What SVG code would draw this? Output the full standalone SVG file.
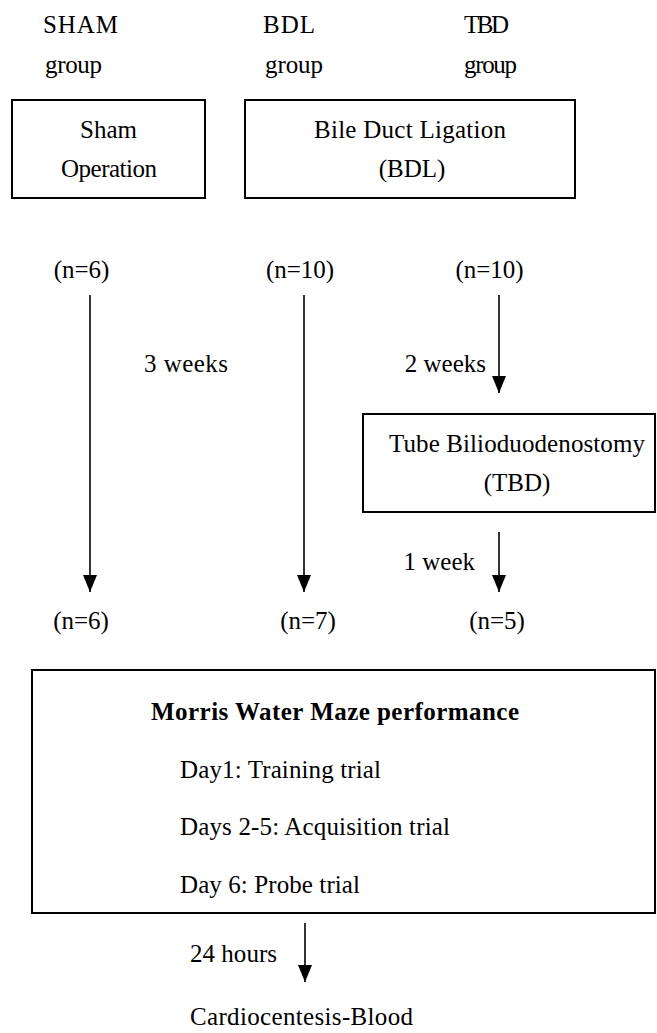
<svg xmlns="http://www.w3.org/2000/svg" width="657" height="1033" viewBox="0 0 657 1033" font-family="'Liberation Serif', 'Times New Roman', serif" font-size="25">
<defs>
<style>
text{font-family:'Liberation Serif','Times New Roman',serif;font-size:25px;fill:#000}
.c{text-anchor:middle}
.e{text-anchor:end}
.b{font-weight:bold}
.box{fill:#fff;stroke:#000;stroke-width:2}
.conn line{stroke:#000;stroke-width:1.6}
</style>
<marker id="ah" markerUnits="userSpaceOnUse" markerWidth="18" markerHeight="16" viewBox="0 -8 18 16" refX="17" refY="0" orient="auto">
<path d="M0,-7 L17,0 L0,7 z" fill="#000"/>
</marker>
</defs>
<rect width="657" height="1033" fill="#fff"/>

<g id="labels-groups">
<text x="43" y="33" textLength="75">SHAM</text>
<text x="45" y="73" textLength="57">group</text>
<text x="263" y="33" textLength="52">BDL</text>
<text x="265" y="73" textLength="58">group</text>
<text x="464" y="33" textLength="45">TBD</text>
<text x="464" y="73" textLength="53">group</text>
</g>

<g id="node-sham">
<rect class="box" x="12" y="100" width="193" height="98"/>
<text class="c" x="108.5" y="138">Sham</text>
<text class="c" x="109" y="177" textLength="96">Operation</text>
</g>

<g id="node-bdl">
<rect class="box" x="245" y="100" width="330" height="98"/>
<text class="c" x="410" y="138" textLength="192">Bile Duct Ligation</text>
<text class="c" x="412" y="177">(BDL)</text>
</g>

<g id="counts-start">
<text class="c" x="81.5" y="278">(n=6)</text>
<text class="c" x="300" y="278">(n=10)</text>
<text class="c" x="489.5" y="278">(n=10)</text>
</g>

<g id="node-tbd">
<rect class="box" x="363" y="414" width="292" height="98"/>
<text class="c" x="517" y="452" textLength="256">Tube Bilioduodenostomy</text>
<text class="c" x="517" y="491">(TBD)</text>
</g>

<g id="counts-end">
<text class="c" x="81" y="629">(n=6)</text>
<text class="c" x="308" y="629">(n=7)</text>
<text class="c" x="497" y="629">(n=5)</text>
</g>

<g id="node-morris">
<rect class="box" x="32" y="670" width="623" height="243"/>
<text class="b" x="151" y="720" textLength="368">Morris Water Maze performance</text>
<text x="180" y="778" textLength="201">Day1: Training trial</text>
<text x="180" y="835" textLength="270">Days 2-5: Acquisition trial</text>
<text x="180" y="893" textLength="180">Day 6: Probe trial</text>
</g>

<g id="node-blood">
<text x="190" y="1025" textLength="223">Cardiocentesis-Blood</text>
</g>

<g class="conn" id="connectors">
<line x1="90" y1="295" x2="90" y2="592" marker-end="url(#ah)"/>
<line x1="304" y1="295" x2="304" y2="592" marker-end="url(#ah)"/>
<line x1="499" y1="295" x2="499" y2="393" marker-end="url(#ah)"/>
<line x1="499" y1="532" x2="499" y2="592" marker-end="url(#ah)"/>
<line x1="305" y1="923" x2="305" y2="982" marker-end="url(#ah)"/>
<text x="144" y="372" textLength="84">3 weeks</text>
<text class="e" x="486" y="372">2 weeks</text>
<text class="e" x="475" y="570">1 week</text>
<text x="190" y="962" textLength="87">24 hours</text>
</g>
</svg>
